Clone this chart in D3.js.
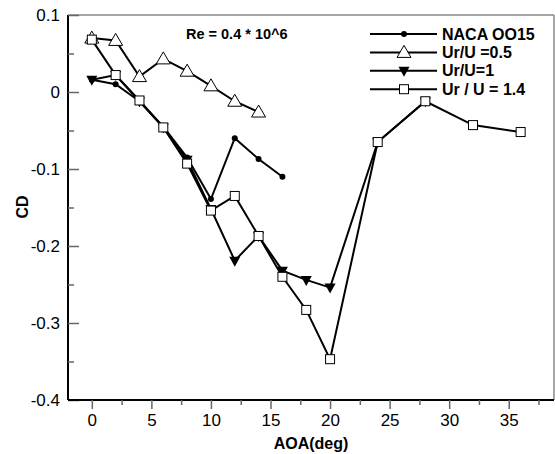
<!DOCTYPE html>
<html>
<head>
<meta charset="utf-8">
<script src="https://cdn.jsdelivr.net/npm/d3@7"></script>
<style>
  body { margin: 0; background: #fff; }
  svg { display: block; font-family: "Liberation Sans", Arial, sans-serif; }
</style>
</head>
<body>
<div id="chart"></div>
<script>
// Data
const nacaAoa = [0, 2, 4, 6, 8, 10, 12, 14, 16];
const nacaCd = [0.016, 0.010, -0.012, -0.045, -0.085, -0.139, -0.060, -0.087, -0.110];

const ur05Aoa = [0, 2, 4, 6, 8, 10, 12, 14];
const ur05Cd = [0.070, 0.067, 0.020, 0.043, 0.027, 0.008, -0.012, -0.026];

const ur1Aoa = [0, 2, 4, 6, 8, 10, 12, 14, 16, 18, 20, 24, 28];
const ur1Cd = [0.016, 0.022, -0.012, -0.046, -0.088, -0.152, -0.219, -0.187, -0.232, -0.244, -0.254, -0.065, -0.012];

const ur14Aoa = [0, 2, 4, 6, 8, 10, 12, 14, 16, 18, 20, 24, 28, 32, 36];
const ur14Cd = [0.068, 0.022, -0.011, -0.046, -0.093, -0.154, -0.135, -0.187, -0.240, -0.283, -0.347, -0.065, -0.012, -0.043, -0.052];

const seriesNames = ["NACA OO15", "Ur/U =0.5", "Ur/U=1", "Ur / U = 1.4"];
const xTicks = [0, 5, 10, 15, 20, 25, 30, 35];
const xMinorTicks = [2.5, 7.5, 12.5, 17.5, 22.5, 27.5, 32.5, 37.5];
const yTicks = [-0.4, -0.3, -0.2, -0.1, 0, 0.1];
const yMinorTicks = [-0.35, -0.25, -0.15, -0.05, 0.05];

const W = 555, H = 454;
const svg = d3.select('#chart').append('svg').attr('width', W).attr('height', H);

const x = d3.scaleLinear().domain([-2, 38.8]).range([68, 554]);
const y = d3.scaleLinear().domain([-0.4, 0.1]).range([400, 15]);

// frame: top and right in grey
svg.append('line').attr('x1', 68).attr('x2', 554).attr('y1', 15).attr('y2', 15)
    .attr('stroke', '#888').attr('stroke-width', 1.5);
svg.append('line').attr('x1', 554).attr('x2', 554).attr('y1', 15).attr('y2', 400)
    .attr('stroke', '#888').attr('stroke-width', 1.5);

// y axis, ticks pointing into the plot (plain hyphen for negatives)
const yAxis = svg.append('g').attr('transform', 'translate(68,0)')
    .call(d3.axisLeft(y).tickValues(yTicks).tickSize(-11).tickPadding(20)
        .tickFormat(d => d === 0 ? '0' : d.toFixed(1)));
svg.append('g').attr('transform', 'translate(68,0)')
    .call(d3.axisLeft(y).tickValues(yMinorTicks).tickSize(-6).tickFormat(''))
    .select('.domain').remove();

// x axis, ticks pointing down
const xAxis = svg.append('g').attr('transform', 'translate(0,400)')
    .call(d3.axisBottom(x).tickValues(xTicks).tickSize(9).tickPadding(5));
svg.append('g').attr('transform', 'translate(0,400)')
    .call(d3.axisBottom(x).tickValues(xMinorTicks).tickSize(5).tickFormat(''))
    .select('.domain').remove();

svg.selectAll('.tick line').attr('stroke', '#666').attr('stroke-width', 1.5);
svg.selectAll('.tick text').attr('fill', '#000').style('font-size', '17px');
yAxis.selectAll('.tick text').attr('x', -8);
yAxis.select('.domain').attr('d', 'M0,15V400').attr('stroke', '#000').attr('stroke-width', 2);
xAxis.select('.domain').attr('d', 'M68,0H554').attr('stroke', '#000').attr('stroke-width', 2);

// axis titles
svg.append('text').attr('x', 311).attr('y', 449).attr('text-anchor', 'middle')
    .style('font-size', '16px').style('font-weight', 'bold').text('AOA(deg)');
svg.append('text').attr('transform', 'translate(28,207) rotate(-90)').attr('text-anchor', 'middle')
    .style('font-size', '16px').style('font-weight', 'bold').text('CD');

svg.append('text').attr('x', 186).attr('y', 39)
    .style('font-size', '14.5px').style('font-weight', 'bold').text('Re = 0.4 * 10^6');

// markers
function drawMarker(g, kind) {
    if (kind === 'circle') {
        g.append('circle').attr('r', 3).attr('fill', '#000');
    } else if (kind === 'tri') {
        g.append('path').attr('d', 'M0,-7L7,5L-7,5Z').attr('fill', '#fff')
            .attr('stroke', '#000').attr('stroke-width', 1);
    } else if (kind === 'dtri') {
        g.append('path').attr('d', 'M-5.5,-4L5.5,-4L0,6Z').attr('fill', '#000');
    } else {
        g.append('rect').attr('x', -4.5).attr('y', -4.5).attr('width', 9).attr('height', 9)
            .attr('fill', '#fff').attr('stroke', '#000').attr('stroke-width', 1);
    }
}

const series = [
    { aoa: nacaAoa, cd: nacaCd, kind: 'circle' },
    { aoa: ur05Aoa, cd: ur05Cd, kind: 'tri' },
    { aoa: ur1Aoa, cd: ur1Cd, kind: 'dtri' },
    { aoa: ur14Aoa, cd: ur14Cd, kind: 'square' }
];

const line = d3.line().x(d => x(d[0])).y(d => y(d[1]));

series.forEach(s => {
    const pts = s.aoa.map((a, i) => [a, s.cd[i]]);
    svg.append('path').datum(pts).attr('d', line)
        .attr('fill', 'none').attr('stroke', '#000').attr('stroke-width', 2);
    pts.forEach(p => {
        const g = svg.append('g').attr('transform', `translate(${x(p[0])},${y(p[1])})`);
        drawMarker(g, s.kind);
    });
});

// legend
const legend = svg.append('g');
series.forEach((s, i) => {
    const ly = 34 + i * 18.4;
    legend.append('line').attr('x1', 370).attr('x2', 437).attr('y1', ly).attr('y2', ly)
        .attr('stroke', '#000').attr('stroke-width', 2);
    const g = legend.append('g').attr('transform', `translate(404,${ly})`);
    drawMarker(g, s.kind);
    legend.append('text').attr('x', 442).attr('y', ly + 5.5)
        .style('font-size', '16px').style('font-weight', 'bold').text(seriesNames[i]);
});
</script>
</body>
</html>
